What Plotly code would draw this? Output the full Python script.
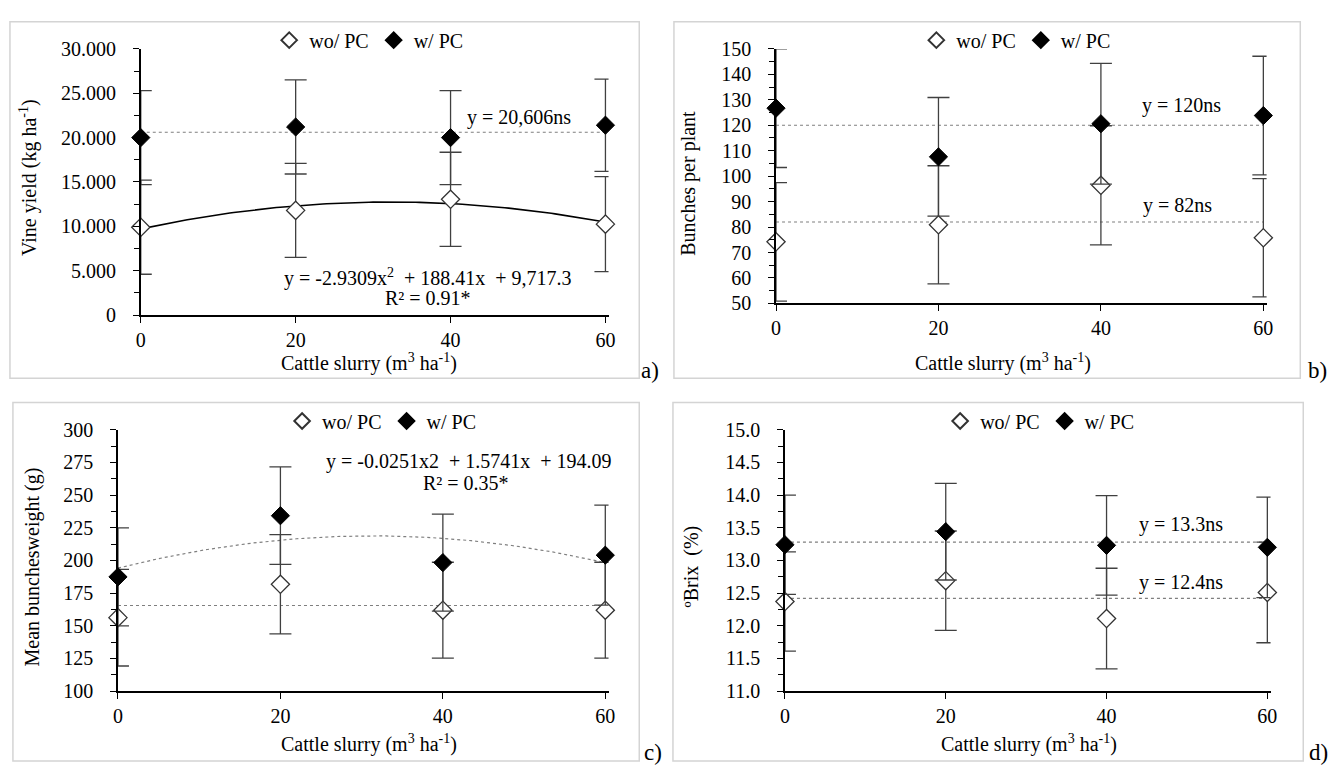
import numpy as np
import plotly.graph_objects as go

# ---------------- data ----------------
slurry = [0, 20, 40, 60]
series_names = ["wo/ PC", "w/ PC"]

# a) Vine yield (kg ha-1)
yield_wo = [9900, 11800, 13050, 10250]
yield_w = [20000, 21200, 20000, 21400]
yield_wo_err = [5300, 5300, 5300, 5350]
yield_w_err = [5300, 5300, 5300, 5200]
yield_fit_coef = [-2.9309, 188.41, 9717.3]   # wo/ PC quadratic fit
yield_w_mean = 20606
yield_tickvals = [0, 5000, 10000, 15000, 20000, 25000, 30000]
yield_ticktext = ["0", "5.000", "10.000", "15.000", "20.000", "25.000", "30.000"]

# b) Bunches per plant
bunch_wo = [74.2, 80.9, 96.4, 75.8]
bunch_w = [126.7, 107.6, 120.6, 123.8]
bunch_wo_err = [23.3, 23.2, 23.4, 23.2]
bunch_w_err = [23.3, 23.3, 23.7, 23.3]
bunch_w_mean = 120
bunch_wo_mean = 82
bunch_tickvals = [50, 60, 70, 80, 90, 100, 110, 120, 130, 140, 150]

# c) Mean bunches weight (g)
weight_wo = [156.2, 181.7, 161.9, 161.9]
weight_w = [187.4, 234.2, 198.3, 204.0]
weight_wo_err = [37.0, 38.0, 36.7, 36.7]
weight_w_err = [37.5, 37.3, 37.1, 38.3]
weight_fit_coef = [-0.0251, 1.5741, 194.09]  # w/ PC quadratic fit
weight_wo_mean = 165.5
weight_tickvals = [100, 125, 150, 175, 200, 225, 250, 275, 300]

# d) Brix (%)
brix_wo = [12.37, 12.69, 12.11, 12.51]
brix_w = [13.24, 13.44, 13.23, 13.20]
brix_wo_err = [0.76, 0.76, 0.77, 0.77]
brix_w_err = [0.76, 0.74, 0.76, 0.77]
brix_w_mean = 13.28
brix_wo_mean = 12.42
brix_tickvals = [11.0, 11.5, 12.0, 12.5, 13.0, 13.5, 14.0, 14.5, 15.0]
brix_ticktext = ["11.0", "11.5", "12.0", "12.5", "13.0", "13.5", "14.0", "14.5", "15.0"]

# ---------------- styling ----------------
W, H = 1339, 773
FONT = "'Times New Roman', 'Liberation Serif', 'DejaVu Serif', serif"
FS = 20
ERR_COLOR = "#404040"
DOT_COLOR = "#7f7f7f"


def px_x(p):
    return p / W


def px_y(p):
    return 1 - p / H


fig = go.Figure()

panels = [
    dict(ax="", wo=yield_wo, w=yield_w, wo_e=yield_wo_err, w_e=yield_w_err, leg="legend"),
    dict(ax="2", wo=bunch_wo, w=bunch_w, wo_e=bunch_wo_err, w_e=bunch_w_err, leg="legend2"),
    dict(ax="3", wo=weight_wo, w=weight_w, wo_e=weight_wo_err, w_e=weight_w_err, leg="legend3"),
    dict(ax="4", wo=brix_wo, w=brix_w, wo_e=brix_wo_err, w_e=brix_w_err, leg="legend4"),
]

xfit = np.linspace(0, 60, 121)


def add_hline(ax, val):
    fig.add_trace(go.Scatter(x=[slurry[0], slurry[-1]], y=[val, val], mode="lines",
                             line=dict(color=DOT_COLOR, width=1.2, dash="dot"),
                             xaxis="x" + ax, yaxis="y" + ax, showlegend=False,
                             hoverinfo="skip"))


# trend lines (drawn first, beneath markers)
add_hline("", yield_w_mean)
fig.add_trace(go.Scatter(x=xfit, y=np.polyval(yield_fit_coef, xfit), mode="lines",
                         line=dict(color="black", width=1.6), xaxis="x", yaxis="y",
                         showlegend=False, hoverinfo="skip"))
add_hline("2", bunch_w_mean)
add_hline("2", bunch_wo_mean)
add_hline("3", weight_wo_mean)
fig.add_trace(go.Scatter(x=xfit, y=np.polyval(weight_fit_coef, xfit), mode="lines",
                         line=dict(color=DOT_COLOR, width=1.2, dash="dot"), xaxis="x3", yaxis="y3",
                         showlegend=False, hoverinfo="skip"))
add_hline("4", brix_w_mean)
add_hline("4", brix_wo_mean)

for p in panels:
    ax = p["ax"]
    fig.add_trace(go.Scatter(
        x=slurry, y=p["wo"], mode="markers", name=series_names[0], cliponaxis=False,
        marker=dict(symbol="diamond", size=14, color="white",
                    line=dict(color="#333333", width=1.3)),
        error_y=dict(type="data", array=p["wo_e"], color=ERR_COLOR, thickness=1.3, width=11),
        xaxis="x" + ax, yaxis="y" + ax, legend=p["leg"]))
    fig.add_trace(go.Scatter(
        x=slurry, y=p["w"], mode="markers", name=series_names[1], cliponaxis=False,
        marker=dict(symbol="diamond", size=14, color="black",
                    line=dict(color="black", width=1)),
        error_y=dict(type="data", array=p["w_e"], color=ERR_COLOR, thickness=1.3, width=11),
        xaxis="x" + ax, yaxis="y" + ax, legend=p["leg"]))

# ---------------- axes ----------------
domains = {
    "": dict(x=[px_x(137), px_x(609)], y=[px_y(313), px_y(39)]),
    "2": dict(x=[px_x(778), px_x(1273)], y=[px_y(301), px_y(39)]),
    "3": dict(x=[px_x(114), px_x(609)], y=[px_y(700), px_y(431)]),
    "4": dict(x=[px_x(787), px_x(1277)], y=[px_y(700), px_y(431)]),
}
yinfo = {
    "": dict(range=[0, 30000], tickvals=yield_tickvals, ticktext=yield_ticktext, minor=2500),
    "2": dict(range=[50, 150], tickvals=bunch_tickvals, ticktext=[str(v) for v in bunch_tickvals], minor=5),
    "3": dict(range=[100, 300], tickvals=weight_tickvals, ticktext=[str(v) for v in weight_tickvals], minor=12.5),
    "4": dict(range=[11, 15], tickvals=brix_tickvals, ticktext=brix_ticktext, minor=0.25),
}

layout_axes = {}
for ax in ["", "2", "3", "4"]:
    d = domains[ax]
    yi = yinfo[ax]
    layout_axes["xaxis" + ax] = dict(
        domain=d["x"], anchor="y" + ax, range=[0, 60.4], tickvals=slurry,
        ticktext=[str(v) for v in slurry], showgrid=False, zeroline=False,
        showline=True, linecolor="black", linewidth=1.6, ticks="outside",
        ticklen=6, tickcolor="black", tickwidth=1.3, ticklabelstandoff=0,
        tickfont=dict(family=FONT, size=FS, color="black"), fixedrange=True)
    layout_axes["yaxis" + ax] = dict(
        domain=d["y"], anchor="x" + ax, range=yi["range"], tickvals=yi["tickvals"],
        ticktext=yi["ticktext"], showgrid=False, zeroline=False,
        showline=True, linecolor="black", linewidth=1.6, ticks="outside",
        ticklen=6, tickcolor="black", tickwidth=1.3, ticklabelstandoff=13,
        minor=dict(dtick=yi["minor"], tick0=yi["range"][0], ticks="outside", ticklen=5,
                   tickcolor="black", tickwidth=1.1, showgrid=False),
        tickfont=dict(family=FONT, size=FS, color="black"), fixedrange=True)

# ---------------- legends ----------------
legend_common = dict(orientation="h", xanchor="center", yanchor="middle",
                     font=dict(family=FONT, size=FS, color="black"),
                     bgcolor="rgba(0,0,0,0)", itemsizing="constant", itemwidth=30,
                     tracegroupgap=0)
legends = {
    "legend": dict(x=px_x(367), y=px_y(30)),
    "legend2": dict(x=px_x(1020), y=px_y(30)),
    "legend3": dict(x=px_x(380), y=px_y(422)),
    "legend4": dict(x=px_x(1044), y=px_y(422)),
}
for k, v in legends.items():
    legends[k] = {**legend_common, **v}

# ---------------- annotations ----------------
tf = dict(family=FONT, size=FS, color="black")
ann = []


def data_text(ax, x, y, text):
    ann.append(dict(x=x, y=y, xref="x" + ax, yref="y" + ax, text=text, showarrow=False,
                    font=tf, xanchor="center", yanchor="middle"))


data_text("", 48.8, 22300, "y = 20,606ns")
data_text("", 37.1, 4200, "y = -2.9309x<sup>2</sup>  + 188.41x  + 9,717.3")
data_text("", 37.1, 1900, "R² = 0.91*")
data_text("2", 49.9, 127.6, "y = 120ns")
data_text("2", 49.4, 88.5, "y = 82ns")
data_text("3", 43.2, 275.5, "y = -0.0251x2  + 1.5741x  + 194.09")
data_text("3", 42.9, 259.0, "R² = 0.35*")
data_text("4", 49.3, 13.55, "y = 13.3ns")
data_text("4", 49.3, 12.66, "y = 12.4ns")

xtitle = "Cattle slurry (m<sup>3</sup> ha<sup>-1</sup>)"
for (xp, yp) in [(367, 362), (1007, 362), (367, 754), (1033, 754)]:
    ann.append(dict(x=px_x(xp), y=px_y(yp), xref="paper", yref="paper", text=xtitle,
                    showarrow=False, font=tf, xanchor="center", yanchor="middle"))

ytitles = [
    (23, 171, "Vine yield (kg ha<sup>-1</sup>)"),
    (690, 177, "Bunches per plant"),
    (28, 572, "Mean bunchesweight (g)"),
    (693, 572, "ºBrix  (%)"),
]
for xp, yp, t in ytitles:
    ann.append(dict(x=px_x(xp), y=px_y(yp), xref="paper", yref="paper", text=t,
                    textangle=-90, showarrow=False, font=tf, xanchor="center", yanchor="middle"))

for xp, yp, t in [(651, 370, "a)"), (1324, 370, "b)"), (654, 763, "c)"), (1325, 763, "d)")]:
    ann.append(dict(x=px_x(xp), y=px_y(yp), xref="paper", yref="paper", text=t,
                    showarrow=False, font=dict(family=FONT, size=23, color="black"),
                    xanchor="center", yanchor="middle"))

# ---------------- panel frames ----------------
shapes = []
for x0, y0, x1, y1 in [(5, 11, 640, 378), (675, 11, 1307, 378), (8, 403, 640, 772), (674, 403, 1310, 772)]:
    shapes.append(dict(type="rect", xref="paper", yref="paper", x0=px_x(x0), x1=px_x(x1),
                       y0=px_y(y1), y1=px_y(y0), line=dict(color="#d4d4d4", width=1.5),
                       fillcolor="rgba(0,0,0,0)", layer="below"))

fig.update_layout(
    width=W, height=H, margin=dict(l=0, r=0, t=0, b=0),
    paper_bgcolor="white", plot_bgcolor="white",
    font=dict(family=FONT, size=FS, color="black"),
    annotations=ann, shapes=shapes, **layout_axes, **legends,
)

fig.write_html("out.html", config={"displayModeBar": False},
               post_script="document.body.style.margin='0px';")
